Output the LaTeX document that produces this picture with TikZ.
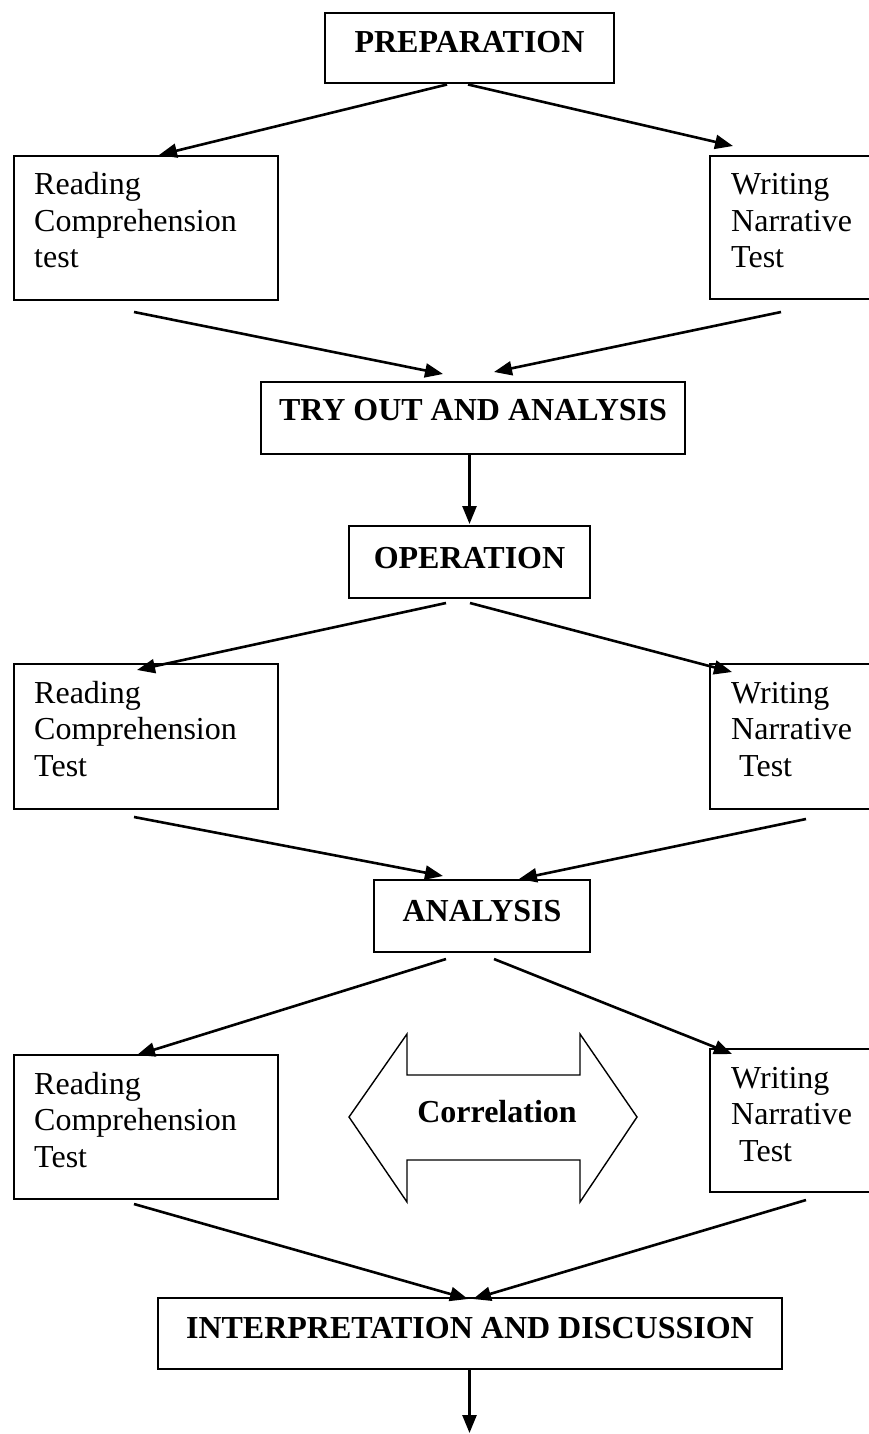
\documentclass[tikz,border=0pt]{standalone}
\usepackage{fontspec}
\setmainfont{Liberation Serif}
\usetikzlibrary{arrows.meta,calc}
\begin{document}
\begin{tikzpicture}[x=1pt,y=-1pt,
  box/.style={draw, line width=2pt, inner sep=0pt, anchor=north west},
  ttl/.style={draw, line width=2pt, inner sep=0pt, anchor=base, font=\fontsize{32}{37}\selectfont\bfseries},
  lbl/.style={inner sep=0pt, anchor=base west, text width=240pt, align=left, font=\fontsize{32}{36.5}\selectfont},
  ctext/.style={inner sep=0pt, anchor=base, font=\fontsize{32}{37}\selectfont\bfseries},
  arr/.style={line width=2.6pt, -{Triangle[length=18pt,width=14pt]}},
  dblarrow/.style={line width=1.4pt},
]
\useasboundingbox (0,0) rectangle (868,1434);

% title boxes
\node[ttl, minimum width=289pt, text height=40pt, text depth=30.5pt] (prep) at (469.5,53) {PREPARATION};
\node[ttl, minimum width=424pt, text height=38pt, text depth=34pt] (try) at (473,420) {TRY OUT AND ANALYSIS};
\node[ttl, minimum width=241pt, text height=42pt, text depth=30pt] (oper) at (469.5,568) {OPERATION};
\node[ttl, minimum width=216pt, text height=41pt, text depth=31pt] (ana) at (482,921) {ANALYSIS};
\node[ttl, minimum width=624pt, text height=40pt, text depth=31pt] (int) at (470,1338) {INTERPRETATION AND DISCUSSION};

% side boxes
\node[box, minimum width=264pt, minimum height=144pt] (r1) at (13,155) {};
\node[box, minimum width=163pt, minimum height=143pt] (w1) at (709,155) {};
\node[box, minimum width=264pt, minimum height=145pt] (r2) at (13,663) {};
\node[box, minimum width=163pt, minimum height=145pt] (w2) at (709,663) {};
\node[box, minimum width=264pt, minimum height=144pt] (r3) at (13,1054) {};
\node[box, minimum width=163pt, minimum height=143pt] (w3) at (709,1048) {};

\node[lbl] (r1t) at ([shift={(21,40)}]r1.north west) {Reading\\Comprehension\\test};
\node[lbl] (w1t) at ([shift={(22,40)}]w1.north west) {Writing\\Narrative\\Test};
\node[lbl] (r2t) at ([shift={(21,40)}]r2.north west) {Reading\\Comprehension\\Test};
\node[lbl] (w2t) at ([shift={(22,40)}]w2.north west) {Writing\\Narrative\\\hspace*{8pt}Test};
\node[lbl] (r3t) at ([shift={(21,40)}]r3.north west) {Reading\\Comprehension\\Test};
\node[lbl] (w3t) at ([shift={(22,40)}]w3.north west) {Writing\\Narrative\\\hspace*{8pt}Test};

% correlation double arrow
\draw[dblarrow] (349,1117) -- (407,1034) -- (407,1075) -- (580,1075) -- (580,1034) -- (637,1117)
  -- (580,1202) -- (580,1160) -- (407,1160) -- (407,1202) -- cycle;
\node[ctext] (corr) at (497,1122) {Correlation};

% connectors
\draw[arr] ([shift={(-22.5,0)}]prep.south) -- ([shift={(13,0)}]r1.north);
\draw[arr] ([shift={(-1.5,0)}]prep.south) -- ([shift={(24,-9)}]w1.north west);
\draw[arr] ([shift={(-12,11)}]r1.south) -- ([shift={(-30,-7)}]try.north);
\draw[arr] ([shift={(72,12)}]w1.south west) -- ([shift={(21,-9)}]try.north);
\draw[arr] ([shift={(-3.5,0)}]try.south) -- ([shift={(0,-1)}]oper.north);
\draw[arr] ([shift={(-23.5,4)}]oper.south) -- ([shift={(-9,7)}]r2.north);
\draw[arr] ([shift={(0.5,4)}]oper.south) -- ([shift={(23,9)}]w2.north west);
\draw[arr] ([shift={(-12,7)}]r2.south) -- ([shift={(-39,-3)}]ana.north);
\draw[arr] ([shift={(97,9)}]w2.south west) -- ([shift={(37,0)}]ana.north);
\draw[arr] ([shift={(-36,6)}]ana.south) -- ([shift={(-9,1)}]r3.north);
\draw[arr] ([shift={(12,6)}]ana.south) -- ([shift={(23,6)}]w3.north west);
\draw[arr] ([shift={(-12,4)}]r3.south) -- ([shift={(-2,2)}]int.north);
\draw[arr] ([shift={(97,7)}]w3.south west) -- ([shift={(3,2)}]int.north);
\coordinate (out) at (469.5,1433);
\draw[arr] ([shift={(-0.5,0)}]int.south) -- (out);
\end{tikzpicture}
\end{document}
